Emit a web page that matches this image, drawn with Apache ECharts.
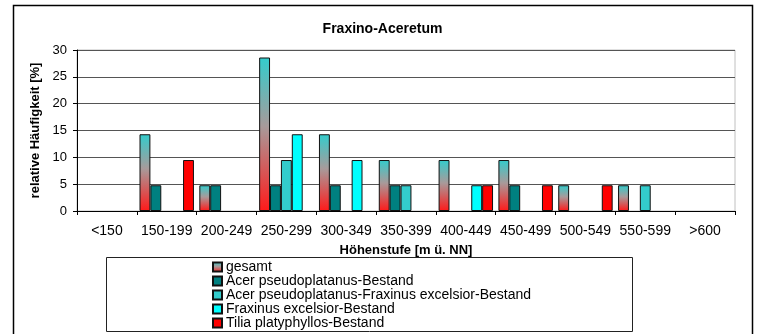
<!DOCTYPE html>
<html>
<head>
<meta charset="utf-8">
<script src="https://cdn.jsdelivr.net/npm/echarts@6/dist/echarts.min.js"></script>
<style>
  html, body { margin: 0; padding: 0; background: #fff; }
  #chart { width: 765px; height: 334px; }
</style>
</head>
<body>
<div id="chart"></div>
<script>
// Altitude classes (m above sea level)
const categories = ['<150', '150-199', '200-249', '250-299', '300-349', '350-399',
                    '400-449', '450-499', '500-549', '550-599', '>600'];

// Relative frequency [%] per stand type
const gesamt              = [0, 14.3, 4.8, 28.6, 14.3, 9.5, 9.5, 9.5, 4.8, 4.8, 0];
const acerBestand         = [0, 4.8, 4.8, 4.8, 4.8, 4.8, 0, 4.8, 0, 0, 0];
const acerFraxinusBestand = [0, 0, 0, 9.5, 0, 4.8, 0, 0, 0, 4.8, 0];
const fraxinusBestand     = [0, 0, 0, 14.3, 9.5, 0, 4.8, 0, 0, 0, 0];
const tiliaBestand        = [0, 9.5, 0, 0, 0, 0, 4.8, 4.8, 4.8, 0, 0];

const seriesNames = [
  'gesamt',
  'Acer pseudoplatanus-Bestand',
  'Acer pseudoplatanus-Fraxinus excelsior-Bestand',
  'Fraxinus excelsior-Bestand',
  'Tilia platyphyllos-Bestand'
];

const yTicks = { min: 0, max: 30, interval: 5 };

const FONT = '"Liberation Sans", Arial, sans-serif';

// Empty classes are left blank instead of drawing a flat outlined bar
const blankZeros = arr => arr.map(v => (v === 0 ? '-' : v));

const gesamtFill = new echarts.graphic.LinearGradient(0, 0, 0, 1, [
  { offset: 0, color: '#33CCCC' },
  { offset: 0.45, color: '#A89A9A' },
  { offset: 1, color: '#FF1A1A' }
]);

const fills = [gesamtFill, '#008080', '#33CCCC', '#00FFFF', '#FF0000'];
const values = [gesamt, acerBestand, acerFraxinusBestand, fraxinusBestand, tiliaBestand];

const series = seriesNames.map((name, i) => ({
  name,
  type: 'bar',
  data: blankZeros(values[i]),
  barGap: '0%',
  barCategoryGap: '9%',
  itemStyle: { color: fills[i], borderColor: '#111', borderWidth: 1 },
  emphasis: { disabled: true }
}));

const chart = echarts.init(document.getElementById('chart'), null, { renderer: 'canvas' });

chart.setOption({
  animation: false,
  backgroundColor: '#fff',
  title: {
    text: 'Fraxino-Aceretum',
    left: 'center',
    top: 22,
    padding: 0,
    textStyle: { fontFamily: FONT, fontSize: 14, fontWeight: 'bold', color: '#000' }
  },
  grid: {
    left: 77, right: 30, top: 50, bottom: 123,
    show: true, borderColor: '#c0c0c0', borderWidth: 1, backgroundColor: 'transparent'
  },
  legend: {
    orient: 'vertical',
    left: 212,
    top: 260,
    padding: 0,
    itemGap: 0,
    itemWidth: 9,
    itemHeight: 9,
    icon: 'rect',
    selectedMode: false,
    data: seriesNames,
    textStyle: { fontFamily: FONT, fontSize: 14, color: '#000', lineHeight: 14, padding: [0, 0, 0, -1] }
  },
  xAxis: {
    type: 'category',
    data: categories,
    name: 'Höhenstufe [m ü. NN]',
    nameLocation: 'middle',
    nameGap: 33,
    nameTextStyle: { fontFamily: FONT, fontSize: 13, fontWeight: 'bold', color: '#000' },
    axisLine: { lineStyle: { color: '#000', width: 1 } },
    axisTick: { show: true, length: 4, lineStyle: { color: '#000' } },
    axisLabel: { fontFamily: FONT, fontSize: 14, color: '#000', margin: 13, interval: 0 }
  },
  yAxis: {
    type: 'value',
    min: yTicks.min,
    max: yTicks.max,
    interval: yTicks.interval,
    name: 'relative Häufigkeit [%]',
    nameLocation: 'middle',
    nameRotate: 90,
    nameGap: 31,
    nameTextStyle: { fontFamily: FONT, fontSize: 13, fontWeight: 'bold', color: '#000' },
    axisLine: { show: true, lineStyle: { color: '#000', width: 1 } },
    axisTick: { show: true, length: 4, lineStyle: { color: '#000' } },
    axisLabel: { fontFamily: FONT, fontSize: 13, color: '#000', margin: 10 },
    splitLine: { show: true, lineStyle: { color: '#555', width: 1 } }
  },
  graphic: [
    {
      type: 'rect',
      z: 0,
      silent: true,
      shape: { x: 13.5, y: 5.5, width: 739, height: 340 },
      style: { fill: 'none', stroke: '#000', lineWidth: 1.5 }
    },
    {
      type: 'rect',
      z: 3,
      silent: true,
      shape: { x: 106.5, y: 257.5, width: 526, height: 74 },
      style: { fill: '#fff', stroke: '#222', lineWidth: 1 }
    }
  ],
  series
});
</script>
</body>
</html>
